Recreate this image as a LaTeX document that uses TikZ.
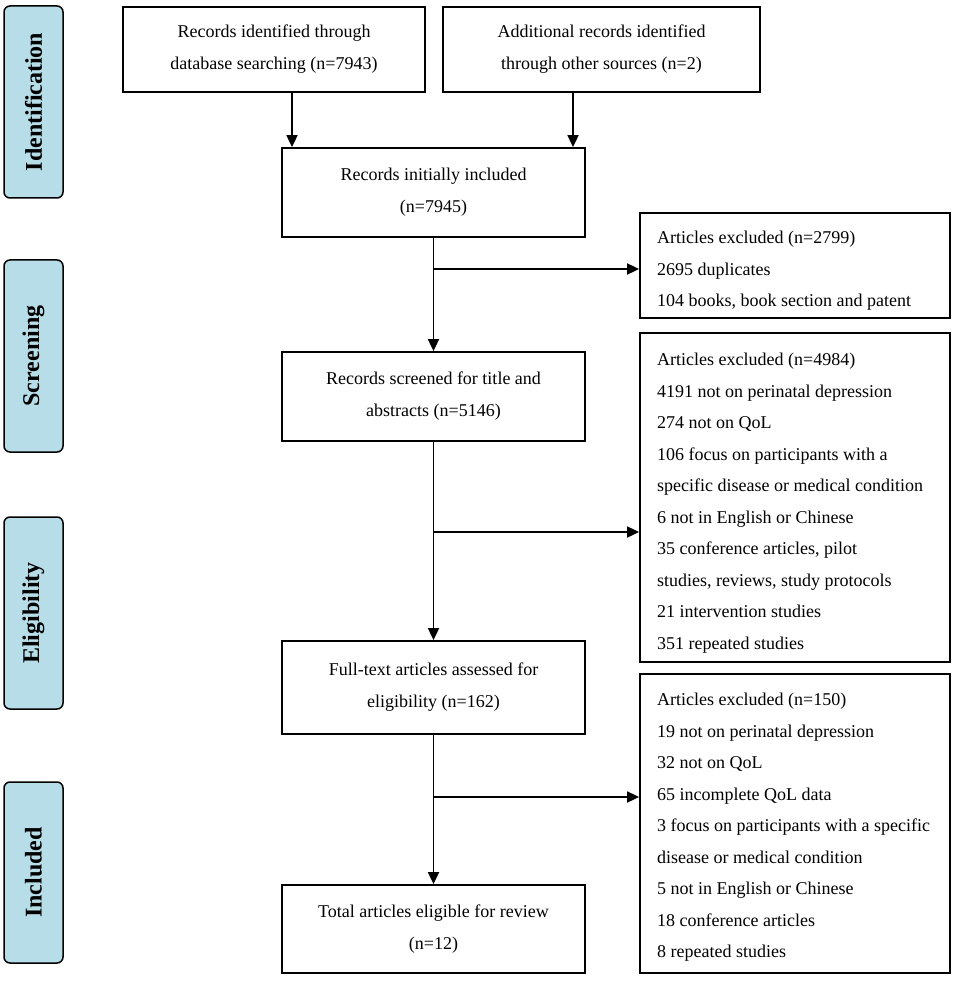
\documentclass[tikz,border=0pt]{standalone}
\usepackage{fontspec}
\setmainfont{Liberation Serif}
\usetikzlibrary{arrows.meta,calc}
\definecolor{stagefill}{RGB}{183,221,232}
\begin{document}
\begin{tikzpicture}[x=1pt,y=-1pt,
  box/.style={draw, line width=1.8pt, align=center, inner sep=0pt, font=\fontsize{18}{32}\selectfont},
  exbox/.style={draw, line width=1.8pt, inner sep=0pt, minimum width=310pt},
  extext/.style={anchor=north west, align=left, inner sep=0pt, font=\fontsize{18}{31.5}\selectfont},
  stage/.style={draw, line width=1.5pt, rounded corners=6pt, fill=stagefill, minimum height=59pt, inner sep=0pt, rotate=90, font=\fontsize{24}{28}\bfseries\selectfont},
  conn/.style={line width=1.8pt},
  arr/.style={conn, -{Triangle[length=12pt,width=11pt]}}]
\useasboundingbox (0,0) rectangle (957,981);
\fill[white] (0,0) rectangle (957,981);

% stage labels
\node[stage, minimum width=192pt] (s1) at (33.5,102) {Identification};
\node[stage, minimum width=192pt] (s2) at (33.5,356) {Screening};
\node[stage, minimum width=192pt] (s3) at (33.5,613) {Eligibility};
\node[stage, minimum width=181pt] (s4) at (33.5,872.5) {Included};

% main boxes
\node[box, minimum width=302pt, minimum height=85pt] (A) at (274,49.5) {Records identified through\\database searching (n=7943)};
\node[box, minimum width=317pt, minimum height=85pt] (B) at (601.5,49.5) {Additional records identified\\through other sources (n=2)};
\node[box, minimum width=303pt, minimum height=89pt] (C) at (433.5,192.5) {Records initially included\\(n=7945)};
\node[box, minimum width=303pt, minimum height=89pt] (D) at (433.5,396.5) {Records screened for title and\\abstracts (n=5146)};
\node[box, minimum width=303pt, minimum height=93pt] (E) at (433.5,687.5) {Full-text articles assessed for\\eligibility (n=162)};
\node[box, minimum width=303pt, minimum height=88pt] (F) at (433.5,929) {Total articles eligible for review\\(n=12)};

% exclusion boxes
\node[exbox, minimum height=105pt] (X1) at (795,265.5) {};
\node[exbox, minimum height=329pt] (X2) at (795,497.5) {};
\node[exbox, minimum height=299pt] (X3) at (795,823.5) {};
\node[extext] (T1) at (657,231) {Articles excluded (n=2799)\\2695 duplicates\\104 books, book section and patent};
\node[extext] (T2) at (657,353) {Articles excluded (n=4984)\\4191 not on perinatal depression\\274 not on QoL\\106 focus on participants with a\\specific disease or medical condition\\6 not in English or Chinese\\35 conference articles, pilot\\studies, reviews, study protocols\\21 intervention studies\\351 repeated studies};
\node[extext] (T3) at (657,693) {Articles excluded (n=150)\\19 not on perinatal depression\\32 not on QoL\\65 incomplete QoL data\\3 focus on participants with a specific\\disease or medical condition\\5 not in English or Chinese\\18 conference articles\\8 repeated studies};

% connectors
\coordinate (a1) at (292,0);
\coordinate (b1) at (573,0);
\draw[arr] (a1 |- A.south) -- (a1 |- C.north);
\draw[arr] (b1 |- B.south) -- (b1 |- C.north);
\draw[arr] (C.south) -- (D.north);
\draw[arr] (D.south) -- (E.north);
\draw[arr] (E.south) -- (F.north);
\coordinate (j1) at (433.5,269);
\coordinate (j2) at (433.5,532);
\coordinate (j3) at (433.5,797);
\draw[arr] (j1) -- (j1 -| X1.west);
\draw[arr] (j2) -- (j2 -| X2.west);
\draw[arr] (j3) -- (j3 -| X3.west);
\end{tikzpicture}
\end{document}
